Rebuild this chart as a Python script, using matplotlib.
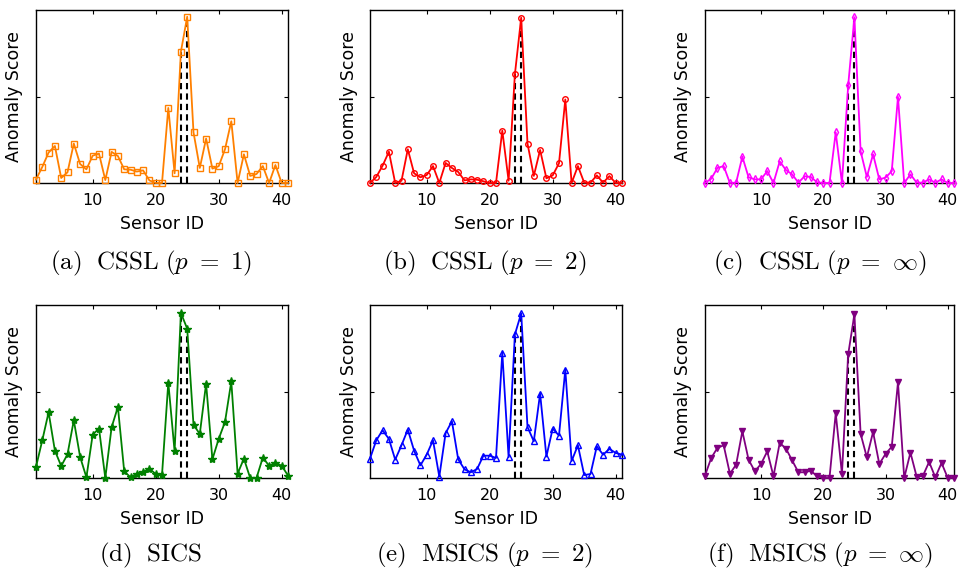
import numpy as np
import matplotlib
matplotlib.use("Agg")
import matplotlib.pyplot as plt

plt.rcParams['mathtext.fontset'] = 'cm'
plt.rcParams['font.family'] = 'DejaVu Sans'

sensor_id = np.arange(1, 42)

# anomaly scores (axis normalised to 0..1)
cssl_p1 = [0.02, 0.093, 0.176, 0.214, 0.029, 0.062, 0.228, 0.11, 0.079, 0.158,
           0.17, 0.017, 0.18, 0.156, 0.079, 0.077, 0.066, 0.073, 0.015, 0.0,
           0.0, 0.434, 0.056, 0.759, 0.961, 0.293, 0.087, 0.257, 0.083, 0.097,
           0.195, 0.357, 0.0, 0.166, 0.041, 0.052, 0.098, 0.0, 0.104, 0.0, 0.0]
cssl_p2 = [0.0, 0.035, 0.100, 0.181, 0.0, 0.013, 0.195, 0.056, 0.033, 0.046,
           0.098, 0.0, 0.116, 0.087, 0.064, 0.015, 0.021, 0.019, 0.01, 0.0,
           0.0, 0.303, 0.013, 0.629, 0.956, 0.228, 0.041, 0.191, 0.027, 0.044,
           0.114, 0.483, 0.0, 0.098, 0.002, 0.002, 0.044, 0.002, 0.04, 0.0, 0.0]
cssl_pinf = [0.0, 0.025, 0.087, 0.098, 0.0, 0.002, 0.152, 0.033, 0.021, 0.021,
             0.069, 0.0, 0.125, 0.075, 0.05, 0.002, 0.039, 0.035, 0.004, 0.0,
             0.0, 0.293, 0.0, 0.564, 0.958, 0.183, 0.035, 0.166, 0.021, 0.031,
             0.068, 0.498, 0.0, 0.05, 0.002, 0.002, 0.021, 0.002, 0.021, 0.0, 0.0]
sics = [0.064, 0.218, 0.38, 0.158, 0.069, 0.137, 0.334, 0.122, 0.004, 0.251,
        0.286, 0.0, 0.293, 0.411, 0.039, 0.004, 0.025, 0.035, 0.054, 0.023,
        0.017, 0.552, 0.154, 0.954, 0.863, 0.307, 0.255, 0.546, 0.108, 0.226,
        0.324, 0.558, 0.025, 0.112, 0.0, 0.0, 0.118, 0.071, 0.087, 0.071, 0.014]
msics_p2 = [0.112, 0.218, 0.276, 0.226, 0.106, 0.189, 0.280, 0.158, 0.073, 0.135,
            0.218, 0.008, 0.259, 0.328, 0.108, 0.05, 0.033, 0.052, 0.129, 0.129,
            0.116, 0.724, 0.12, 0.83, 0.952, 0.295, 0.212, 0.488, 0.124, 0.286,
            0.245, 0.627, 0.098, 0.189, 0.017, 0.023, 0.183, 0.135, 0.168, 0.145, 0.135]
msics_pinf = [0.014, 0.116, 0.174, 0.189, 0.025, 0.077, 0.270, 0.106, 0.039, 0.081,
              0.154, 0.01, 0.203, 0.17, 0.102, 0.033, 0.033, 0.042, 0.01, 0.0,
              0.0, 0.375, 0.023, 0.714, 0.946, 0.255, 0.12, 0.266, 0.081, 0.139,
              0.181, 0.554, 0.0, 0.147, 0.008, 0.012, 0.093, 0.004, 0.087, 0.0, 0.0]

# sensors that are truly anomalous
true_ids = [24, 25]

captions = [r"$\mathrm{(a)\ \ CSSL\ (}p\ =\ 1\mathrm{)}$",
            r"$\mathrm{(b)\ \ CSSL\ (}p\ =\ 2\mathrm{)}$",
            r"$\mathrm{(c)\ \ CSSL\ (}p\ =\ \infty\mathrm{)}$",
            r"$\mathrm{(d)\ \ SICS}$",
            r"$\mathrm{(e)\ \ MSICS\ (}p\ =\ 2\mathrm{)}$",
            r"$\mathrm{(f)\ \ MSICS\ (}p\ =\ \infty\mathrm{)}$"]
series = [cssl_p1, cssl_p2, cssl_pinf, sics, msics_p2, msics_pinf]
colors = ['#FF8000', '#FF0000', '#FF00FF', '#008000', '#0000FF', '#800080']
markers = ['s', 'o', 'd', '*', '^', 'v']
filled = [False, False, False, True, False, True]

W, H = 959, 572
fig = plt.figure(figsize=(W / 100, H / 100), dpi=100)

lefts = [36, 370, 705]
widths = [252, 252, 249]
tops = [10, 305]
ax_h = 173

for i, (vals, col, mk, fl, cap) in enumerate(zip(series, colors, markers, filled, captions)):
    r, c = divmod(i, 3)
    l, t, ax_w = lefts[c], tops[r], widths[c]
    ax = fig.add_axes([l / W, 1 - (t + ax_h) / H, ax_w / W, ax_h / H])
    vals = np.array(vals)

    for sid in true_ids:
        ax.vlines(sid, 0, vals[sid - 1], colors='black', linestyles=(0, (3, 2)),
                  linewidth=1.5, zorder=1)

    ms = 6 if mk == '*' else 4
    ax.plot(sensor_id, vals, color=col, marker=mk, markersize=ms, linewidth=1.3,
            markerfacecolor=col if fl else 'none', markeredgewidth=1.0,
            clip_on=False, zorder=3)

    ax.set_xlim(1, 41)
    ax.set_ylim(0, 1)
    ax.set_xticks([10, 20, 30, 40])
    ax.set_yticks([0.5])
    ax.set_yticklabels([])
    ax.tick_params(direction='in', length=3, width=0.8, top=True, right=True,
                   labelsize=11.5, pad=7)
    for sp in ax.spines.values():
        sp.set_linewidth(1.0)
    ax.set_xlabel("Sensor ID", fontsize=12.5, labelpad=5)
    ax.set_ylabel("Anomaly Score", fontsize=12.5, labelpad=2)

    cx = (l + 252 / 2 - 11) / W
    cy = 1 - (263 if r == 0 else 555) / H
    fig.text(cx, cy, cap, ha='center', va='center', fontsize=18)

fig.savefig("out.png", dpi=100)
